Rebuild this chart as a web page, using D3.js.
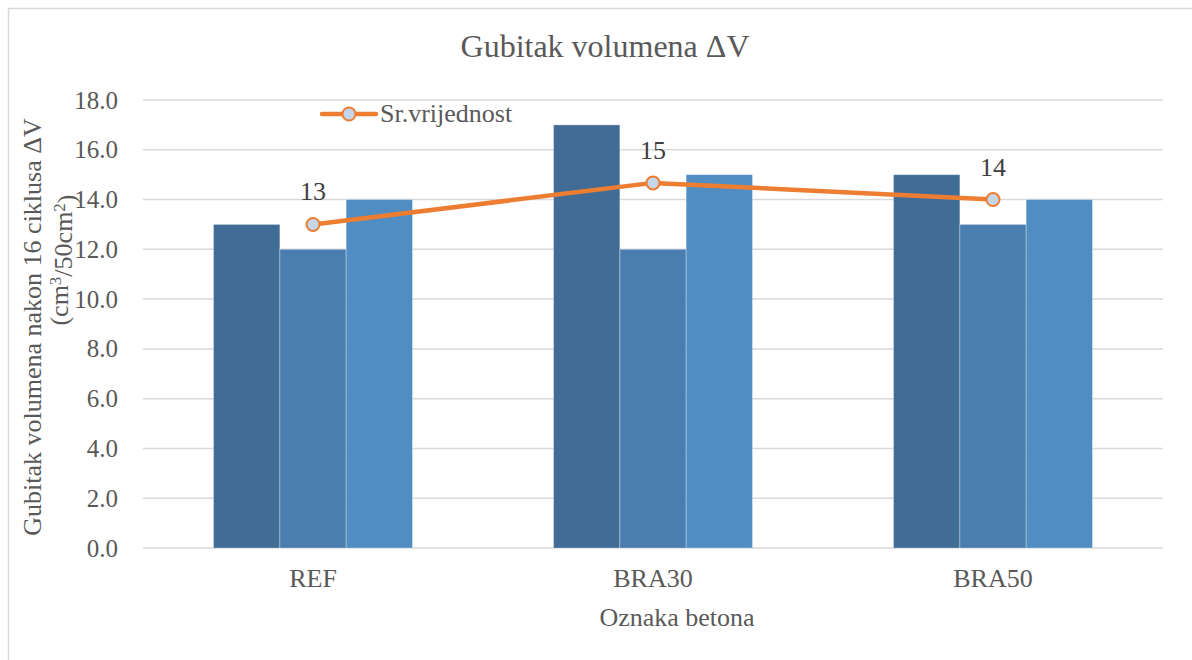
<!DOCTYPE html>
<html><head><meta charset="utf-8">
<script src="https://cdn.jsdelivr.net/npm/d3@7"></script>
<style>
html,body{margin:0;padding:0;background:#fff;}
</style></head>
<body>
<svg id="chart" width="1192" height="660"></svg>
<script>
const categories = ["REF", "BRA30", "BRA50"];
const series1 = [13, 12, 14];
const series2 = [17, 12, 15];
const series3 = [15, 13, 14];
// per category the three specimen values
const groupValues = [series1, series2, series3];
const meanValues = [13, 14.67, 14];
const meanLabels = ["13", "15", "14"];
const yTicks = [0, 2, 4, 6, 8, 10, 12, 14, 16, 18];
const barColors = ["#416c96", "#4a7db0", "#508dc2"];

const FONT = "'Liberation Serif','Tinos','Nimbus Roman','Nimbus Roman No9 L','FreeSerif','Noto Serif','DejaVu Serif','Times New Roman',Times,serif";
const svg = d3.select("#chart").attr("font-family", FONT);
const M = {left:143, right:1163, top:100, bottom:548};

// border
svg.append("rect").attr("x",8.5).attr("y",8.5).attr("width",1200).attr("height",700)
  .attr("fill","none").attr("stroke","#d9d9d9").attr("stroke-width",1.5);

const x0 = d3.scaleBand().domain(categories).range([M.left, M.right])
  .paddingInner(0.415).paddingOuter(0.2075);
const x1 = d3.scaleBand().domain([0,1,2]).range([0, x0.bandwidth()]);
const y = d3.scaleLinear().domain([0,18]).range([M.bottom, M.top]);

// gridlines
svg.append("g").selectAll("line").data(yTicks).join("line")
  .attr("x1",M.left).attr("x2",M.right)
  .attr("y1",d=>y(d)).attr("y2",d=>y(d))
  .attr("stroke","#d9d9d9").attr("stroke-width",1.5);

// y tick labels
svg.append("g").selectAll("text").data(yTicks).join("text")
  .attr("x",118).attr("y",d=>y(d)).attr("dy","0.34em")
  .attr("text-anchor","end").attr("font-size",25).attr("fill","#595959")
  .text(d=>d.toFixed(1));

// bars
const g = svg.append("g").selectAll("g").data(categories).join("g")
  .attr("transform",d=>`translate(${x0(d)},0)`);
g.selectAll("rect").data((d,i)=>groupValues[i].map((v,j)=>({v,j}))).join("rect")
  .attr("x",d=>x1(d.j)).attr("width",x1.bandwidth())
  .attr("y",d=>y(d.v)).attr("height",d=>y(0)-y(d.v))
  .attr("fill",d=>barColors[d.j])
  .attr("stroke","rgba(255,255,255,0.3)").attr("stroke-width",1);

// mean line
const cx = c => x0(c) + x0.bandwidth()/2;
const pts = categories.map((c,i)=>[cx(c), y(meanValues[i])]);
svg.append("path").attr("d", d3.line()(pts))
  .attr("fill","none").attr("stroke","#ed7d31").attr("stroke-width",4.5)
  .attr("stroke-linejoin","round").attr("stroke-linecap","round");
svg.append("g").selectAll("circle").data(pts).join("circle")
  .attr("cx",d=>d[0]).attr("cy",d=>d[1]).attr("r",6.5)
  .attr("fill","#c6d6ea").attr("stroke","#ed7d31").attr("stroke-width",2);
svg.append("g").selectAll("text").data(pts).join("text")
  .attr("x",d=>d[0]).attr("y",d=>d[1]-24)
  .attr("text-anchor","middle").attr("font-size",26).attr("fill","#404040")
  .text((d,i)=>meanLabels[i]);

// x labels
svg.append("g").selectAll("text").data(categories).join("text")
  .attr("x",d=>cx(d)).attr("y",587).attr("text-anchor","middle")
  .attr("font-size",26).attr("fill","#595959").text(d=>d);

// axis titles
svg.append("text").attr("x",677).attr("y",626).attr("text-anchor","middle")
  .attr("font-size",26).attr("fill","#595959").text("Oznaka betona");
svg.append("text").attr("transform","translate(41,327) rotate(-90)")
  .attr("text-anchor","middle").attr("font-size",26).attr("fill","#595959")
  .text("Gubitak volumena nakon 16 ciklusa ΔV");
const t2 = svg.append("text").attr("transform","translate(68,260) rotate(-90)")
  .attr("text-anchor","middle").attr("font-size",26).attr("fill","#595959");
t2.append("tspan").text("(cm");
t2.append("tspan").attr("dy","-0.4em").attr("font-size",17).text("3");
t2.append("tspan").attr("dy","0.4em").text("/50cm");
t2.append("tspan").attr("dy","-0.4em").attr("font-size",17).text("2");
t2.append("tspan").attr("dy","0.4em").text(")");

// title
svg.append("text").attr("x",605).attr("y",57).attr("text-anchor","middle")
  .attr("font-size",32).attr("fill","#595959").text("Gubitak volumena ΔV");

// legend
svg.append("line").attr("x1",322).attr("x2",376).attr("y1",114).attr("y2",114)
  .attr("stroke","#ed7d31").attr("stroke-width",4.5).attr("stroke-linecap","round");
svg.append("circle").attr("cx",349).attr("cy",114).attr("r",6.5)
  .attr("fill","#c6d6ea").attr("stroke","#ed7d31").attr("stroke-width",2);
svg.append("text").attr("x",380).attr("y",122).attr("font-size",26).attr("fill","#595959")
  .text("Sr.vrijednost");
</script>
</body></html>
